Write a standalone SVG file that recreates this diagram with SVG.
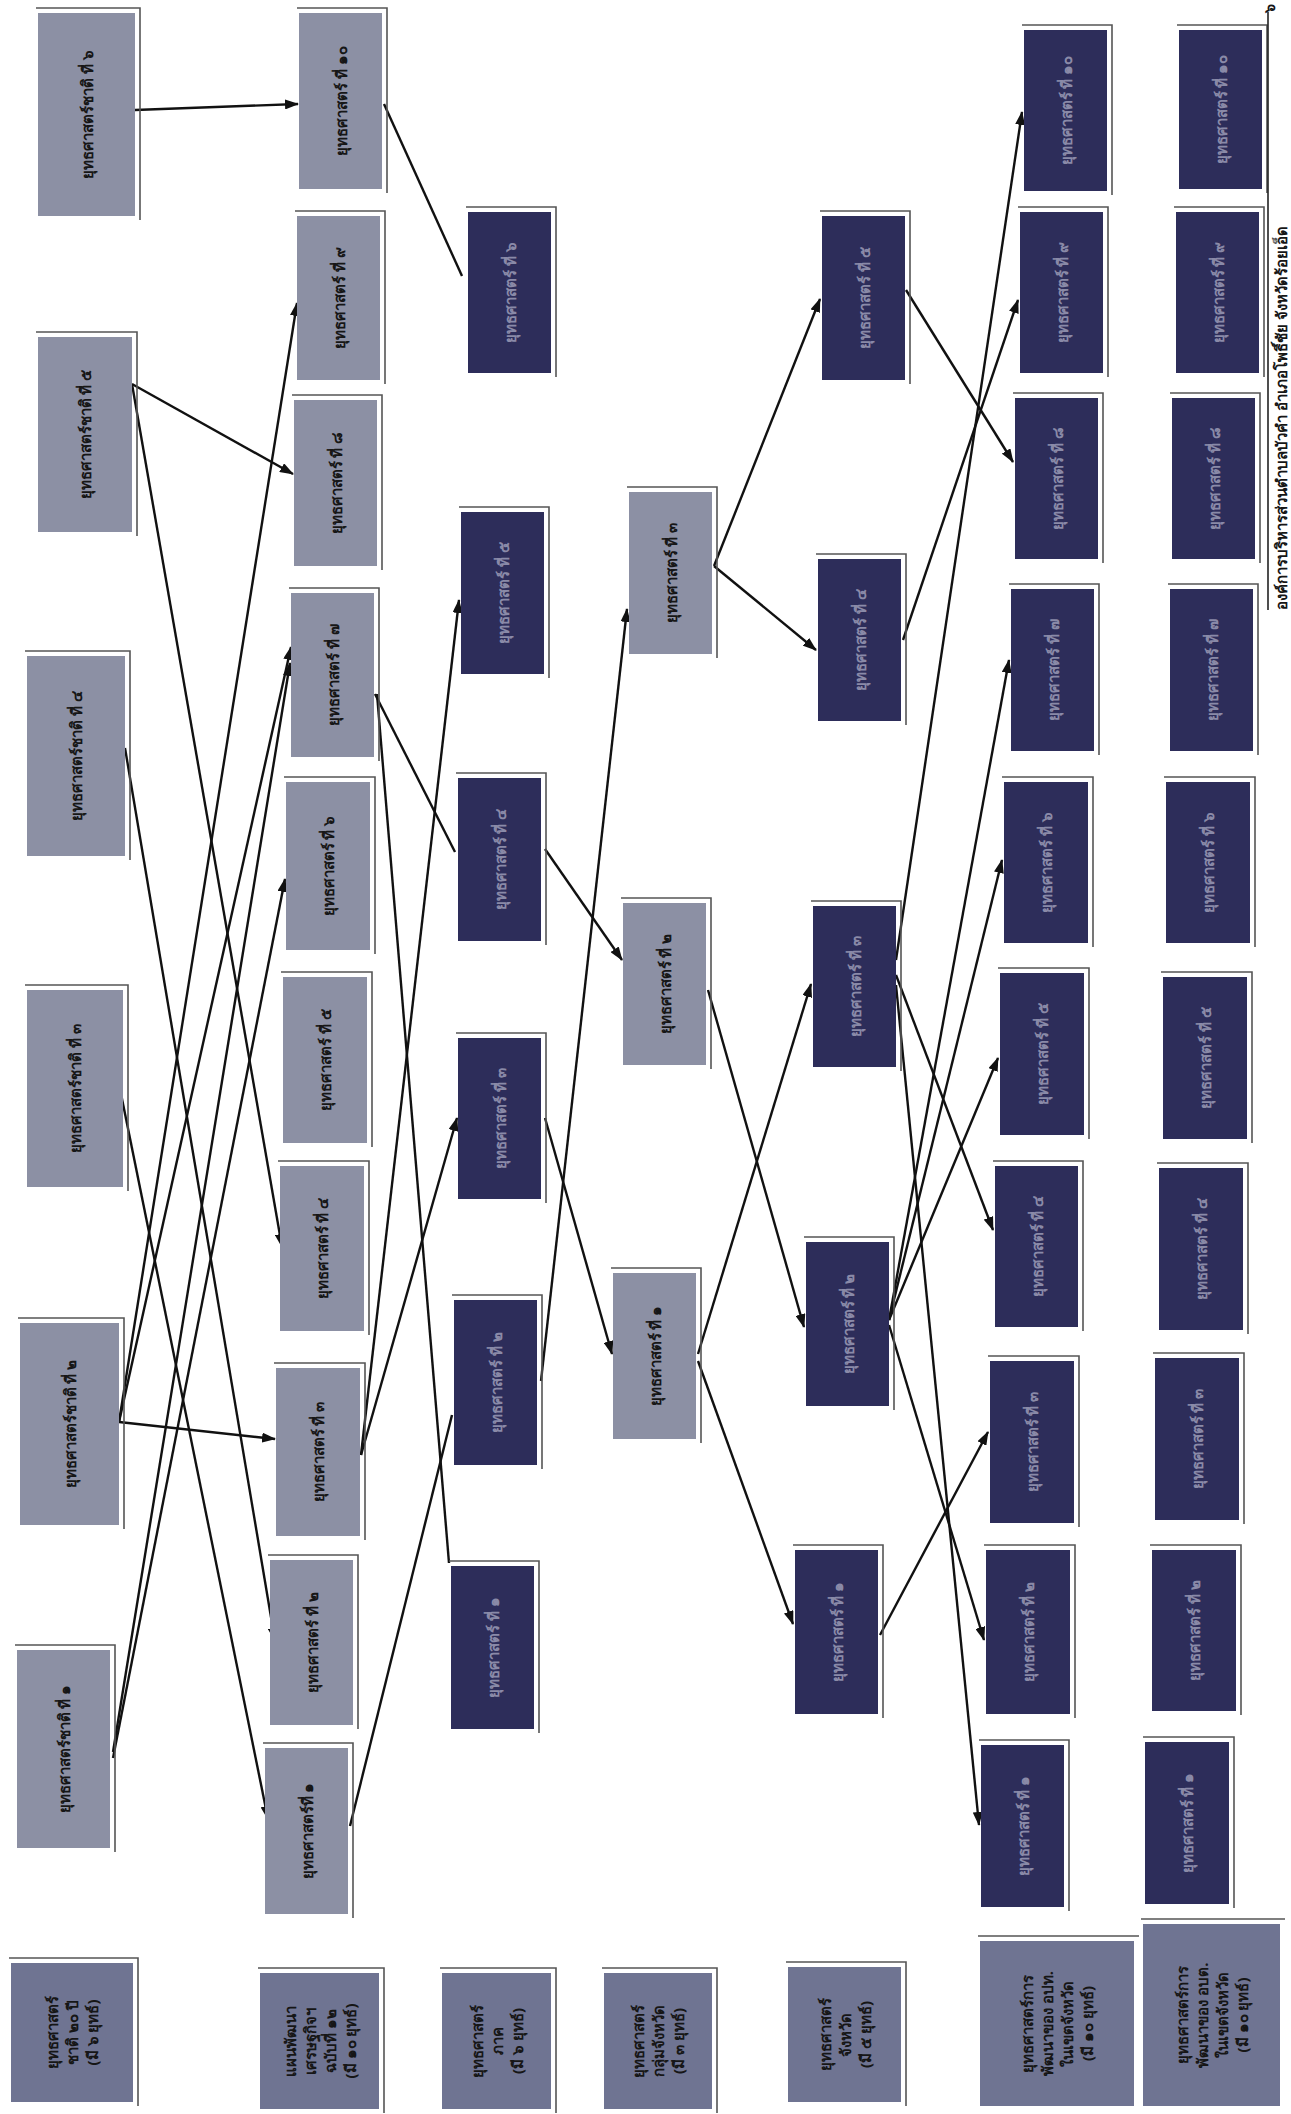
<svg xmlns="http://www.w3.org/2000/svg" width="1291" height="2114" viewBox="0 0 1291 2114">
<defs>
<style>
.lg{fill:#8c90a4}
.dk{fill:#2d2d5a}
.lb{fill:#6f7492}
.fr{fill:none;stroke:#555;stroke-width:1.6}
.t{font-family:"Noto Sans","DejaVu Sans",sans-serif;font-weight:bold;font-size:15px;text-anchor:middle;dominant-baseline:central}
.tl{fill:#161616}
.td{fill:#8a8aa8}
.c{stroke:#111;stroke-width:2.4;fill:none}
.a{marker-end:url(#ah)}
</style>
<marker id="ah" markerWidth="14" markerHeight="10" refX="13" refY="5" orient="auto" markerUnits="userSpaceOnUse">
<polygon points="0,0 14,5 0,10" fill="#111"/>
</marker>
</defs>
<rect width="1291" height="2114" fill="#fff"/>

<g id="connectors">
<line class="c a" x1="135" y1="110" x2="298" y2="104"/>
<line class="c" x1="384" y1="104" x2="462" y2="276"/>
<line class="c a" x1="132" y1="384" x2="293" y2="474"/>
<line class="c a" x1="132" y1="384" x2="282" y2="1247"/>
<line class="c a" x1="125" y1="748" x2="275" y2="1641"/>
<line class="c a" x1="121" y1="1094" x2="268" y2="1819"/>
<line class="c a" x1="119" y1="1422" x2="275" y2="1439"/>
<line class="c a" x1="119" y1="1422" x2="297" y2="303"/>
<line class="c a" x1="119" y1="1422" x2="291" y2="647"/>
<line class="c a" x1="113" y1="1752" x2="290" y2="663"/>
<line class="c a" x1="113" y1="1758" x2="285" y2="879"/>
<line class="c" x1="375" y1="694" x2="455" y2="852"/>
<line class="c" x1="377" y1="694" x2="449" y2="1563"/>
<line class="c a" x1="361" y1="1455" x2="459" y2="600"/>
<line class="c a" x1="361" y1="1455" x2="457" y2="1118"/>
<line class="c" x1="350" y1="1826" x2="452" y2="1415"/>
<line class="c a" x1="541" y1="1381" x2="627" y2="609"/>
<line class="c a" x1="545" y1="1118" x2="612" y2="1354"/>
<line class="c a" x1="545" y1="849" x2="622" y2="960"/>
<line class="c a" x1="714" y1="566" x2="820" y2="299"/>
<line class="c a" x1="714" y1="566" x2="816" y2="650"/>
<line class="c a" x1="708" y1="990" x2="804" y2="1327"/>
<line class="c a" x1="698" y1="1354" x2="811" y2="984"/>
<line class="c a" x1="698" y1="1361" x2="793" y2="1624"/>
<line class="c a" x1="906" y1="290" x2="1013" y2="462"/>
<line class="c a" x1="903" y1="640" x2="1018" y2="300"/>
<line class="c a" x1="896" y1="960" x2="1022" y2="112"/>
<line class="c a" x1="896" y1="975" x2="993" y2="1230"/>
<line class="c a" x1="896" y1="985" x2="979" y2="1825"/>
<line class="c a" x1="889" y1="1320" x2="1009" y2="660"/>
<line class="c a" x1="889" y1="1320" x2="1002" y2="860"/>
<line class="c a" x1="889" y1="1320" x2="998" y2="1058"/>
<line class="c a" x1="889" y1="1325" x2="984" y2="1640"/>
<line class="c a" x1="880" y1="1635" x2="988" y2="1432"/>
</g>

<g id="nat6"><rect class="lg" x="38" y="13" width="97" height="203"/><path class="fr" d="M36 8H140V220"/><text class="t tl" transform="translate(86.5 114.5) rotate(-90)">ยุทธศาสตร์ชาติ ที่ ๖</text></g>
<g id="nat5"><rect class="lg" x="38" y="337" width="94" height="195"/><path class="fr" d="M36 332H137V536"/><text class="t tl" transform="translate(85 434.5) rotate(-90)">ยุทธศาสตร์ชาติ ที่ ๕</text></g>
<g id="nat4"><rect class="lg" x="27" y="656" width="98" height="200"/><path class="fr" d="M25 651H130V860"/><text class="t tl" transform="translate(76 756) rotate(-90)">ยุทธศาสตร์ชาติ ที่ ๔</text></g>
<g id="nat3"><rect class="lg" x="27" y="990" width="96" height="197"/><path class="fr" d="M25 985H128V1191"/><text class="t tl" transform="translate(75 1088.5) rotate(-90)">ยุทธศาสตร์ชาติ ที่ ๓</text></g>
<g id="nat2"><rect class="lg" x="20" y="1323" width="99" height="202"/><path class="fr" d="M18 1318H124V1529"/><text class="t tl" transform="translate(69.5 1424) rotate(-90)">ยุทธศาสตร์ชาติ ที่ ๒</text></g>
<g id="nat1"><rect class="lg" x="17" y="1650" width="93" height="198"/><path class="fr" d="M15 1645H115V1852"/><text class="t tl" transform="translate(63.5 1749) rotate(-90)">ยุทธศาสตร์ชาติ ที่ ๑</text></g>

<g id="p10"><rect class="lg" x="299" y="13" width="83" height="176"/><path class="fr" d="M297 8H387V193"/><text class="t tl" transform="translate(340.5 101) rotate(-90)">ยุทธศาสตร์ ที่ ๑๐</text></g>
<g id="p9"><rect class="lg" x="297" y="216" width="83" height="164"/><path class="fr" d="M295 211H385V384"/><text class="t tl" transform="translate(338.5 298) rotate(-90)">ยุทธศาสตร์ ที่ ๙</text></g>
<g id="p8"><rect class="lg" x="294" y="400" width="83" height="166"/><path class="fr" d="M292 395H382V570"/><text class="t tl" transform="translate(335.5 483) rotate(-90)">ยุทธศาสตร์ ที่ ๘</text></g>
<g id="p7"><rect class="lg" x="291" y="593" width="83" height="164"/><path class="fr" d="M289 588H379V761"/><text class="t tl" transform="translate(332.5 675) rotate(-90)">ยุทธศาสตร์ ที่ ๗</text></g>
<g id="p6"><rect class="lg" x="286" y="782" width="84" height="168"/><path class="fr" d="M284 777H375V954"/><text class="t tl" transform="translate(328 866) rotate(-90)">ยุทธศาสตร์ ที่ ๖</text></g>
<g id="p5"><rect class="lg" x="283" y="977" width="84" height="166"/><path class="fr" d="M281 972H372V1147"/><text class="t tl" transform="translate(325 1060) rotate(-90)">ยุทธศาสตร์ ที่ ๕</text></g>
<g id="p4"><rect class="lg" x="280" y="1166" width="84" height="165"/><path class="fr" d="M278 1161H369V1335"/><text class="t tl" transform="translate(322 1248.5) rotate(-90)">ยุทธศาสตร์ ที่ ๔</text></g>
<g id="p3"><rect class="lg" x="276" y="1368" width="84" height="168"/><path class="fr" d="M274 1363H365V1540"/><text class="t tl" transform="translate(318 1452) rotate(-90)">ยุทธศาสตร์ ที่ ๓</text></g>
<g id="p2"><rect class="lg" x="270" y="1560" width="83" height="165"/><path class="fr" d="M268 1555H358V1729"/><text class="t tl" transform="translate(311.5 1642.5) rotate(-90)">ยุทธศาสตร์ ที่ ๒</text></g>
<g id="p1"><rect class="lg" x="265" y="1748" width="83" height="166"/><path class="fr" d="M263 1743H353V1918"/><text class="t tl" transform="translate(306.5 1831) rotate(-90)">ยุทธศาสตร์ที่ ๑</text></g>

<g id="r6"><rect class="dk" x="468" y="212" width="83" height="161"/><path class="fr" d="M466 207H556V377"/><text class="t td" transform="translate(509.5 292.5) rotate(-90)">ยุทธศาสตร์ ที่ ๖</text></g>
<g id="r5"><rect class="dk" x="461" y="512" width="83" height="162"/><path class="fr" d="M459 507H549V678"/><text class="t td" transform="translate(502.5 593) rotate(-90)">ยุทธศาสตร์ ที่ ๕</text></g>
<g id="r4"><rect class="dk" x="458" y="778" width="83" height="163"/><path class="fr" d="M456 773H546V945"/><text class="t td" transform="translate(499.5 859.5) rotate(-90)">ยุทธศาสตร์ ที่ ๔</text></g>
<g id="r3"><rect class="dk" x="458" y="1038" width="83" height="161"/><path class="fr" d="M456 1033H546V1203"/><text class="t td" transform="translate(499.5 1118.5) rotate(-90)">ยุทธศาสตร์ ที่ ๓</text></g>
<g id="r2"><rect class="dk" x="454" y="1300" width="83" height="165"/><path class="fr" d="M452 1295H542V1469"/><text class="t td" transform="translate(495.5 1382.5) rotate(-90)">ยุทธศาสตร์ ที่ ๒</text></g>
<g id="r1"><rect class="dk" x="451" y="1566" width="83" height="163"/><path class="fr" d="M449 1561H539V1733"/><text class="t td" transform="translate(492.5 1647.5) rotate(-90)">ยุทธศาสตร์ ที่ ๑</text></g>

<g id="g3"><rect class="lg" x="629" y="492" width="83" height="162"/><path class="fr" d="M627 487H717V658"/><text class="t tl" transform="translate(670.5 573) rotate(-90)">ยุทธศาสตร์ ที่ ๓</text></g>
<g id="g2"><rect class="lg" x="623" y="903" width="83" height="162"/><path class="fr" d="M621 898H711V1069"/><text class="t tl" transform="translate(664.5 984) rotate(-90)">ยุทธศาสตร์ ที่ ๒</text></g>
<g id="g1"><rect class="lg" x="613" y="1273" width="83" height="166"/><path class="fr" d="M611 1268H701V1443"/><text class="t tl" transform="translate(654.5 1356) rotate(-90)">ยุทธศาสตร์ ที่ ๑</text></g>

<g id="v5"><rect class="dk" x="822" y="216" width="83" height="164"/><path class="fr" d="M820 211H910V384"/><text class="t td" transform="translate(863.5 298) rotate(-90)">ยุทธศาสตร์ ที่ ๕</text></g>
<g id="v4"><rect class="dk" x="818" y="559" width="83" height="162"/><path class="fr" d="M816 554H906V725"/><text class="t td" transform="translate(859.5 640) rotate(-90)">ยุทธศาสตร์ ที่ ๔</text></g>
<g id="v3"><rect class="dk" x="813" y="906" width="83" height="161"/><path class="fr" d="M811 901H901V1071"/><text class="t td" transform="translate(854.5 986.5) rotate(-90)">ยุทธศาสตร์ ที่ ๓</text></g>
<g id="v2"><rect class="dk" x="806" y="1242" width="83" height="164"/><path class="fr" d="M804 1237H894V1410"/><text class="t td" transform="translate(847.5 1324) rotate(-90)">ยุทธศาสตร์ ที่ ๒</text></g>
<g id="v1"><rect class="dk" x="795" y="1550" width="83" height="164"/><path class="fr" d="M793 1545H883V1718"/><text class="t td" transform="translate(836.5 1632) rotate(-90)">ยุทธศาสตร์ ที่ ๑</text></g>

<g id="a10"><rect class="dk" x="1024" y="30" width="83" height="161"/><path class="fr" d="M1022 25H1112V195"/><text class="t td" transform="translate(1065.5 110.5) rotate(-90)">ยุทธศาสตร์ ที่ ๑๐</text></g>
<g id="a9"><rect class="dk" x="1020" y="212" width="83" height="161"/><path class="fr" d="M1018 207H1108V377"/><text class="t td" transform="translate(1061.5 292.5) rotate(-90)">ยุทธศาสตร์ ที่ ๙</text></g>
<g id="a8"><rect class="dk" x="1015" y="398" width="83" height="161"/><path class="fr" d="M1013 393H1103V563"/><text class="t td" transform="translate(1056.5 478.5) rotate(-90)">ยุทธศาสตร์ ที่ ๘</text></g>
<g id="a7"><rect class="dk" x="1011" y="589" width="83" height="162"/><path class="fr" d="M1009 584H1099V755"/><text class="t td" transform="translate(1052.5 670) rotate(-90)">ยุทธศาสตร์ ที่ ๗</text></g>
<g id="a6"><rect class="dk" x="1004" y="782" width="84" height="161"/><path class="fr" d="M1002 777H1093V947"/><text class="t td" transform="translate(1046 862.5) rotate(-90)">ยุทธศาสตร์ ที่ ๖</text></g>
<g id="a5"><rect class="dk" x="1000" y="973" width="84" height="162"/><path class="fr" d="M998 968H1089V1139"/><text class="t td" transform="translate(1042 1054) rotate(-90)">ยุทธศาสตร์ ที่ ๕</text></g>
<g id="a4"><rect class="dk" x="995" y="1166" width="83" height="161"/><path class="fr" d="M993 1161H1083V1331"/><text class="t td" transform="translate(1036.5 1246.5) rotate(-90)">ยุทธศาสตร์ ที่ ๔</text></g>
<g id="a3"><rect class="dk" x="990" y="1361" width="84" height="162"/><path class="fr" d="M988 1356H1079V1527"/><text class="t td" transform="translate(1032 1442) rotate(-90)">ยุทธศาสตร์ ที่ ๓</text></g>
<g id="a2"><rect class="dk" x="986" y="1550" width="84" height="164"/><path class="fr" d="M984 1545H1075V1718"/><text class="t td" transform="translate(1028 1632) rotate(-90)">ยุทธศาสตร์ ที่ ๒</text></g>
<g id="a1"><rect class="dk" x="981" y="1745" width="83" height="162"/><path class="fr" d="M979 1740H1069V1911"/><text class="t td" transform="translate(1022.5 1826) rotate(-90)">ยุทธศาสตร์ ที่ ๑</text></g>

<g id="b10"><rect class="dk" x="1179" y="30" width="83" height="159"/><path class="fr" d="M1177 25H1267V193"/><text class="t td" transform="translate(1220.5 109.5) rotate(-90)">ยุทธศาสตร์ ที่ ๑๐</text></g>
<g id="b9"><rect class="dk" x="1176" y="212" width="83" height="161"/><path class="fr" d="M1174 207H1264V377"/><text class="t td" transform="translate(1217.5 292.5) rotate(-90)">ยุทธศาสตร์ ที่ ๙</text></g>
<g id="b8"><rect class="dk" x="1172" y="398" width="83" height="161"/><path class="fr" d="M1170 393H1260V563"/><text class="t td" transform="translate(1213.5 478.5) rotate(-90)">ยุทธศาสตร์ ที่ ๘</text></g>
<g id="b7"><rect class="dk" x="1170" y="589" width="83" height="162"/><path class="fr" d="M1168 584H1258V755"/><text class="t td" transform="translate(1211.5 670) rotate(-90)">ยุทธศาสตร์ ที่ ๗</text></g>
<g id="b6"><rect class="dk" x="1166" y="782" width="84" height="161"/><path class="fr" d="M1164 777H1255V947"/><text class="t td" transform="translate(1208 862.5) rotate(-90)">ยุทธศาสตร์ ที่ ๖</text></g>
<g id="b5"><rect class="dk" x="1163" y="977" width="84" height="162"/><path class="fr" d="M1161 972H1252V1143"/><text class="t td" transform="translate(1205 1058) rotate(-90)">ยุทธศาสตร์ ที่ ๕</text></g>
<g id="b4"><rect class="dk" x="1159" y="1168" width="84" height="162"/><path class="fr" d="M1157 1163H1248V1334"/><text class="t td" transform="translate(1201 1249) rotate(-90)">ยุทธศาสตร์ ที่ ๔</text></g>
<g id="b3"><rect class="dk" x="1155" y="1358" width="84" height="162"/><path class="fr" d="M1153 1353H1244V1524"/><text class="t td" transform="translate(1197 1439) rotate(-90)">ยุทธศาสตร์ ที่ ๓</text></g>
<g id="b2"><rect class="dk" x="1152" y="1550" width="84" height="161"/><path class="fr" d="M1150 1545H1241V1715"/><text class="t td" transform="translate(1194 1630.5) rotate(-90)">ยุทธศาสตร์ ที่ ๒</text></g>
<g id="b1"><rect class="dk" x="1145" y="1742" width="84" height="162"/><path class="fr" d="M1143 1737H1234V1908"/><text class="t td" transform="translate(1187 1823) rotate(-90)">ยุทธศาสตร์ ที่ ๑</text></g>

<g id="lbl1"><rect class="lb" x="11" y="1963" width="122" height="139"/><path class="fr" d="M9 1958H138V2106"/><text class="t tl" transform="translate(72 2032.5) rotate(-90)"><tspan x="0" dy="-20">ยุทธศาสตร์</tspan><tspan x="0" dy="20">ชาติ ๒๐ ปี</tspan><tspan x="0" dy="20">(มี ๖ ยุทธ์)</tspan></text></g>
<g id="lbl2"><rect class="lb" x="260" y="1973" width="119" height="136"/><path class="fr" d="M258 1968H384V2113"/><text class="t tl" transform="translate(319.5 2041) rotate(-90)"><tspan x="0" dy="-30">แผนพัฒนา</tspan><tspan x="0" dy="20">เศรษฐกิจฯ</tspan><tspan x="0" dy="20">ฉบับที่ ๑๒</tspan><tspan x="0" dy="20">(มี ๑๐ ยุทธ์)</tspan></text></g>
<g id="lbl3"><rect class="lb" x="442" y="1973" width="109" height="136"/><path class="fr" d="M440 1968H556V2113"/><text class="t tl" transform="translate(496.5 2041) rotate(-90)"><tspan x="0" dy="-20">ยุทธศาสตร์</tspan><tspan x="0" dy="20">ภาค</tspan><tspan x="0" dy="20">(มี ๖ ยุทธ์)</tspan></text></g>
<g id="lbl4"><rect class="lb" x="604" y="1973" width="108" height="136"/><path class="fr" d="M602 1968H717V2113"/><text class="t tl" transform="translate(658 2041) rotate(-90)"><tspan x="0" dy="-20">ยุทธศาสตร์</tspan><tspan x="0" dy="20">กลุ่มจังหวัด</tspan><tspan x="0" dy="20">(มี ๓ ยุทธ์)</tspan></text></g>
<g id="lbl5"><rect class="lb" x="788" y="1967" width="113" height="135"/><path class="fr" d="M786 1962H906V2106"/><text class="t tl" transform="translate(844.5 2034.5) rotate(-90)"><tspan x="0" dy="-20">ยุทธศาสตร์</tspan><tspan x="0" dy="20">จังหวัด</tspan><tspan x="0" dy="20">(มี ๕ ยุทธ์)</tspan></text></g>
<g id="lbl6"><rect class="lb" x="980" y="1941" width="154" height="165"/><path class="fr" d="M978 1936H1139"/><text class="t tl" transform="translate(1057 2023.5) rotate(-90)"><tspan x="0" dy="-30">ยุทธศาสตร์การ</tspan><tspan x="0" dy="20">พัฒนาของ อปท.</tspan><tspan x="0" dy="20">ในเขตจังหวัด</tspan><tspan x="0" dy="20">(มี ๑๐ ยุทธ์)</tspan></text></g>
<g id="lbl7"><rect class="lb" x="1143" y="1924" width="137" height="182"/><path class="fr" d="M1141 1919H1285"/><text class="t tl" transform="translate(1211.5 2015) rotate(-90)"><tspan x="0" dy="-30">ยุทธศาสตร์การ</tspan><tspan x="0" dy="20">พัฒนาของ อบต.</tspan><tspan x="0" dy="20">ในเขตจังหวัด</tspan><tspan x="0" dy="20">(มี ๑๐ ยุทธ์)</tspan></text></g>

<g id="footer">
<line x1="1268" y1="12" x2="1268" y2="610" stroke="#222" stroke-width="1.6"/>
<text class="t tl" style="font-size:15px;text-anchor:start" transform="translate(1281 610) rotate(-90)">องค์การบริหารส่วนตำบลบัวคำ  อำเภอโพธิ์ชัย  จังหวัดร้อยเอ็ด</text>
<text class="t tl" style="font-size:14px" transform="translate(1268 8) rotate(-90)">๖</text>
</g>
</svg>
